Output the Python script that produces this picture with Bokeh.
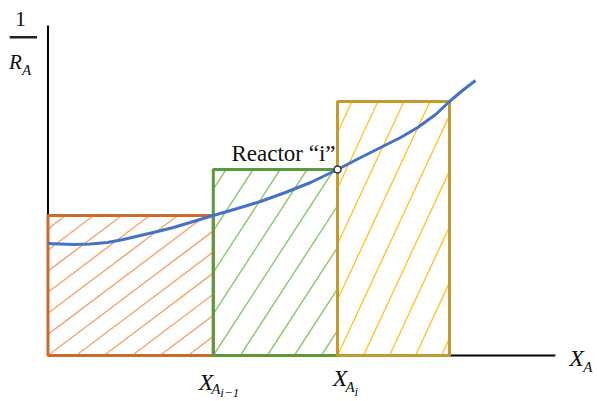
import math
from bokeh.plotting import figure
from bokeh.models import Range1d, Label, BoxAnnotation
from bokeh.embed import file_html
from bokeh.resources import INLINE

# ---- data ----
x_edges = [0.0, 0.406, 0.711, 0.986]          # X_A boundaries: 0, X_A(i-1), X_A(i), next
bar_heights = [1.40, 1.86, 2.54]               # 1/R_A heights of the three reactors
curve_x = [0.0, 0.063, 0.104, 0.146, 0.185, 0.227, 0.269, 0.308, 0.349, 0.406,
           0.465, 0.522, 0.583, 0.645, 0.711, 0.768, 0.817, 0.866, 0.908, 0.952,
           0.986, 1.018, 1.050]
curve_y = [1.12, 1.11, 1.115, 1.13, 1.16, 1.20, 1.24, 1.28, 1.33, 1.40,
           1.47, 1.54, 1.63, 1.73, 1.86, 1.98, 2.08, 2.18, 2.28, 2.41,
           2.54, 2.65, 2.75]
x_axis_end = 1.246
y_axis_end = 3.30

# ---- styles ----
border_colors = ["#CC6A30", "#5A9A3A", "#C49A2E"]
hatch_colors = ["#F4A469", "#8DC86A", "#FFC42E"]
hatch_angles = [37, 57, 65]      # degrees
hatch_spacing = [28, 27, 26]     # px, horizontal
SERIF = "Liberation Serif"

W, H = 597, 401
XR = (-0.1166, -0.1166 + W / 407.2)
YR = (-0.46, -0.46 + H / 100.0)
SX = W / (XR[1] - XR[0])
SY = H / (YR[1] - YR[0])

p = figure(width=W, height=H, output_backend="svg", toolbar_location=None,
           x_range=Range1d(*XR), y_range=Range1d(*YR), min_border=0)
p.outline_line_color = None
p.grid.visible = False
p.axis.visible = False
p.background_fill_color = "white"
p.border_fill_color = "white"

# axes lines
p.line([0, x_axis_end], [0, 0], line_color="black", line_width=2)
p.line([0, 0], [0, y_axis_end], line_color="black", line_width=2)


def hatch_segments(L, R, B, T, angle, spacing):
    w = (R - L) * SX
    h = (T - B) * SY
    t = math.tan(math.radians(angle))
    run = h / t
    x0s, y0s, x1s, y1s = [], [], [], []
    k = -math.ceil(run / spacing)
    while k * spacing < w:
        a = k * spacing
        xa, xb = max(0.0, a), min(w, a + run)
        if xa < xb:
            x0s.append(L + xa / SX)
            y0s.append(B + t * (xa - a) / SY)
            x1s.append(L + xb / SX)
            y1s.append(B + t * (xb - a) / SY)
        k += 1
    return x0s, y0s, x1s, y1s


for i in range(len(bar_heights)):
    x0s, y0s, x1s, y1s = hatch_segments(x_edges[i], x_edges[i + 1], 0, bar_heights[i],
                                        hatch_angles[i], hatch_spacing[i])
    p.segment(x0s, y0s, x1s, y1s, line_color=hatch_colors[i], line_width=1.4)

# reactor rectangles
p.quad(left=x_edges[:-1], right=x_edges[1:], bottom=0, top=bar_heights,
       fill_color=None, line_color=border_colors, line_width=3)

# 1/R_A curve
p.line(curve_x, curve_y, line_color="#4472C4", line_width=3)

# reactor i point
p.scatter(x=[x_edges[2]], y=[bar_heights[1]], size=7, fill_color="white",
          line_color="#333333", line_width=1.5)


def lab(x, y, text, size, align="left", italic=True, xo=0, color="#111111"):
    p.add_layout(Label(x=x, y=y, text=text, x_offset=xo,
                       text_font=SERIF, text_font_size=f"{size}px",
                       text_font_style="italic" if italic else "normal",
                       text_align=align, text_baseline="alphabetic",
                       text_color=color))


# Reactor "i" label
lab(x_edges[2], bar_heights[1] + 0.16, "Reactor “i”", 23, align="right", italic=False, xo=-2)

# y-axis label 1 / R_A
lab(-0.0675, 3.37, "1", 22, align="center", italic=False)
p.add_layout(BoxAnnotation(left=-0.094, right=-0.027, top=3.195, bottom=3.17,
                           fill_color="#222222", fill_alpha=1, line_color=None))
lab(-0.096, 2.94, "R", 21)
lab(-0.096, 2.86, "A", 15, xo=13)

# x-axis label X_A
lab(x_axis_end, -0.02, "X", 24, xo=14)
lab(x_axis_end, -0.11, "A", 15, xo=28)

# tick labels X_{A_{i-1}} and X_{A_i}
lab(x_edges[1], -0.265, "X", 24, align="right", xo=0)
lab(x_edges[1], -0.335, "A", 15, xo=-2)
lab(x_edges[1], -0.37, "i−1", 13, xo=7)

lab(x_edges[2], -0.225, "X", 24, align="right", xo=10)
lab(x_edges[2], -0.315, "A", 15, xo=8)
lab(x_edges[2], -0.355, "i", 13, xo=17)

open("out.html", "w").write(file_html(p, INLINE))
